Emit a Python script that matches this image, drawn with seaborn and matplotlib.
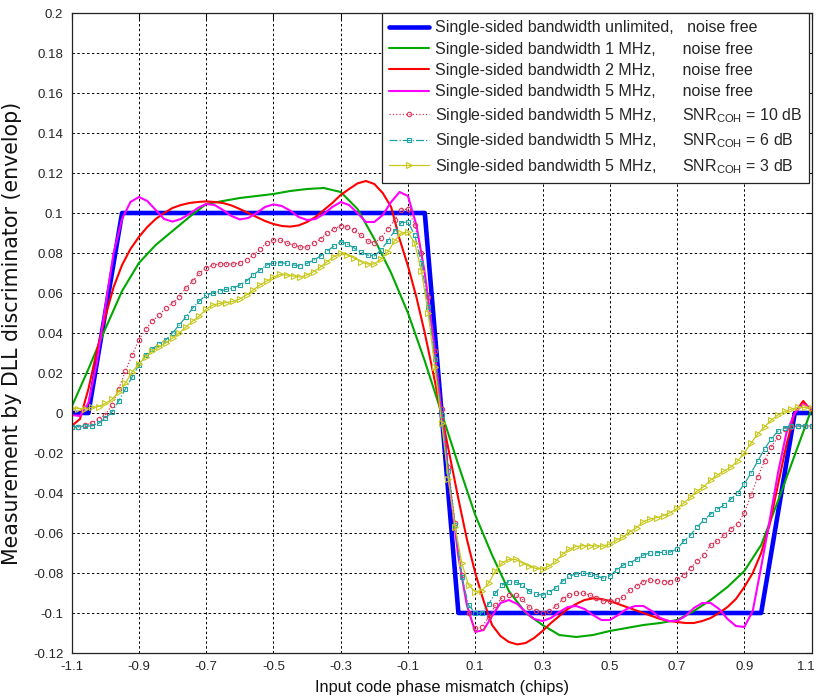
import numpy as np
import matplotlib
matplotlib.use("Agg")
import matplotlib.pyplot as plt
from matplotlib.transforms import ScaledTranslation
import seaborn as sns

# ---------------------------------------------------------------------------
# Discriminator output vs. code phase mismatch (chips)
# ---------------------------------------------------------------------------

# ideal (unlimited bandwidth) discriminator: piecewise linear corner points
x_ideal = [-1.1, -1.05, -0.95, -0.05, 0.05, 0.95, 1.05, 1.1]
y_ideal = [0.0, 0.0, 0.1, 0.1, -0.1, -0.1, 0.0, 0.0]

# 1 MHz, noise free (sampled every 0.05 chip)
x_bw1 = np.linspace(-1.1, 1.1, 45)
y_bw1 = [0.003, 0.022, 0.042, 0.061, 0.075, 0.084, 0.091, 0.098, 0.1045, 0.106,
         0.1075, 0.1085, 0.1095, 0.111, 0.112, 0.1125, 0.1105, 0.102, 0.087, 0.070,
         0.050, 0.026, 0.000,
         -0.026, -0.051, -0.071, -0.089, -0.100, -0.106, -0.111, -0.112, -0.111, -0.109,
         -0.1075, -0.106, -0.105, -0.1035, -0.099, -0.0935, -0.087, -0.079, -0.066, -0.044,
         -0.021, 0.002]

# 2 MHz and 5 MHz, noise free (sampled every 0.025 chip)
x_fine = np.linspace(-1.1, 1.1, 89)
y_bw2 = [-0.0065, -0.003, 0.012, 0.031, 0.048, 0.063, 0.074, 0.082, 0.088, 0.093,
         0.097, 0.100, 0.1025, 0.104, 0.105, 0.1055, 0.1058, 0.1055, 0.105, 0.1038,
         0.102, 0.100, 0.098, 0.096, 0.0945, 0.0935, 0.0932, 0.0938, 0.0955, 0.098,
         0.1015, 0.105, 0.109, 0.112, 0.1148, 0.116, 0.1145, 0.110, 0.103, 0.087,
         0.0735, 0.058, 0.040, 0.020, -0.001,
         -0.022, -0.043, -0.063, -0.080, -0.094, -0.106, -0.1115, -0.1145, -0.1157, -0.115,
         -0.1125, -0.109, -0.105, -0.1015, -0.098, -0.0955, -0.0935, -0.0927, -0.093, -0.094,
         -0.0955, -0.097, -0.0985, -0.100, -0.1015, -0.103, -0.104, -0.1045, -0.105, -0.105,
         -0.104, -0.1025, -0.100, -0.097, -0.093, -0.087, -0.080, -0.070, -0.056, -0.036,
         -0.016, 0.000, 0.006, 0.001]
y_bw5 = [-0.001, -0.0015, 0.005, 0.025, 0.053, 0.080, 0.097, 0.1055, 0.108, 0.106,
         0.1015, 0.097, 0.0957, 0.097, 0.0995, 0.1025, 0.1045, 0.104, 0.1015, 0.0985,
         0.0968, 0.0975, 0.100, 0.103, 0.1043, 0.1035, 0.1012, 0.098, 0.0965, 0.097,
         0.0995, 0.103, 0.1055, 0.104, 0.100, 0.0955, 0.0955, 0.099, 0.1055, 0.1105,
         0.1085, 0.094, 0.070, 0.038, 0.000,
         -0.038, -0.072, -0.096, -0.1095, -0.1085, -0.1015, -0.095, -0.0935, -0.0955, -0.0995,
         -0.103, -0.104, -0.1025, -0.0995, -0.097, -0.0965, -0.098, -0.101, -0.1035, -0.1035,
         -0.101, -0.098, -0.0965, -0.0965, -0.099, -0.1025, -0.104, -0.104, -0.1015, -0.0975,
         -0.095, -0.095, -0.098, -0.103, -0.1065, -0.107, -0.099, -0.077, -0.054, -0.030,
         -0.010, 0.000, 0.0045, 0.002]

# 5 MHz with noise (sampled every 0.02 chip)
x_noisy = np.linspace(-1.1, 1.1, 111)
y_snr10 = [-0.0068, -0.0070, -0.0062, -0.0050, -0.0030, -0.0010, 0.0040, 0.0120, 0.0210, 0.0290,
           0.0365, 0.0420, 0.0460, 0.0490, 0.0525, 0.0550, 0.0580, 0.0625, 0.0660, 0.0700,
           0.0725, 0.0740, 0.0745, 0.0745, 0.0745, 0.0750, 0.0765, 0.0790, 0.0820, 0.0850,
           0.0865, 0.0865, 0.0850, 0.0840, 0.0830, 0.0830, 0.0850, 0.0870, 0.0900, 0.0920,
           0.0937, 0.0930, 0.0915, 0.0890, 0.0860, 0.0850, 0.0875, 0.0920, 0.0965, 0.1015,
           0.1020, 0.0940, 0.0800, 0.0580, 0.0310, 0.0020,
           -0.0270, -0.0550, -0.0810, -0.1000, -0.1077, -0.1070, -0.1020, -0.0960, -0.0925, -0.0910,
           -0.0910, -0.0930, -0.0970, -0.0990, -0.0998, -0.0990, -0.0965, -0.0930, -0.0910, -0.0900,
           -0.0900, -0.0910, -0.0925, -0.0940, -0.0940, -0.0935, -0.0920, -0.0885, -0.0865, -0.0843,
           -0.0835, -0.0838, -0.0843, -0.0843, -0.0830, -0.0810, -0.0775, -0.0740, -0.0710, -0.0660,
           -0.0640, -0.0610, -0.0580, -0.0555, -0.0500, -0.0410, -0.0320, -0.0240, -0.0170, -0.0120,
           -0.0080, -0.0068, -0.0065, -0.0065, -0.0065]
y_snr6 = [-0.0068, -0.0068, -0.0067, -0.0064, -0.0052, -0.0027, 0.0005, 0.0060, 0.0120, 0.0180,
          0.0240, 0.0290, 0.0320, 0.0345, 0.0365, 0.0400, 0.0440, 0.0480, 0.0525, 0.0560,
          0.0590, 0.0600, 0.0610, 0.0618, 0.0625, 0.0640, 0.0660, 0.0690, 0.0715, 0.0740,
          0.0750, 0.0752, 0.0748, 0.0740, 0.0735, 0.0748, 0.0765, 0.0785, 0.0810, 0.0835,
          0.0857, 0.0845, 0.0825, 0.0805, 0.0790, 0.0785, 0.0815, 0.0860, 0.0910, 0.0952,
          0.0955, 0.0890, 0.0750, 0.0530, 0.0270, -0.0010,
          -0.0290, -0.0560, -0.0820, -0.0960, -0.1000, -0.1000, -0.0955, -0.0900, -0.0860, -0.0843,
          -0.0845, -0.0860, -0.0890, -0.0907, -0.0910, -0.0895, -0.0875, -0.0840, -0.0815, -0.0805,
          -0.0800, -0.0805, -0.0815, -0.0825, -0.0815, -0.0785, -0.0760, -0.0750, -0.0730, -0.0710,
          -0.0700, -0.0698, -0.0697, -0.0695, -0.0680, -0.0640, -0.0610, -0.0570, -0.0535, -0.0505,
          -0.0480, -0.0460, -0.0430, -0.0400, -0.0355, -0.0300, -0.0240, -0.0180, -0.0130, -0.0090,
          -0.0075, -0.0067, -0.0065, -0.0065, -0.0065]
y_snr3 = [0.0023, 0.0022, 0.0022, 0.0028, 0.0032, 0.0048, 0.0068, 0.0107, 0.0150, 0.0205,
          0.0245, 0.0280, 0.0310, 0.0330, 0.0350, 0.0375, 0.0400, 0.0430, 0.0460, 0.0485,
          0.0520, 0.0540, 0.0548, 0.0552, 0.0558, 0.0570, 0.0590, 0.0615, 0.0640, 0.0660,
          0.0680, 0.0693, 0.0690, 0.0685, 0.0680, 0.0690, 0.0707, 0.0730, 0.0757, 0.0782,
          0.0798, 0.0790, 0.0775, 0.0757, 0.0745, 0.0745, 0.0770, 0.0805, 0.0860, 0.0900,
          0.0905, 0.0850, 0.0710, 0.0500, 0.0230, -0.0050,
          -0.0330, -0.0570, -0.0750, -0.0860, -0.0893, -0.0888, -0.0850, -0.0790, -0.0748, -0.0732,
          -0.0732, -0.0750, -0.0765, -0.0777, -0.0780, -0.0765, -0.0740, -0.0705, -0.0680, -0.0668,
          -0.0663, -0.0663, -0.0665, -0.0665, -0.0655, -0.0635, -0.0620, -0.0593, -0.0573, -0.0543,
          -0.0530, -0.0523, -0.0513, -0.0498, -0.0477, -0.0450, -0.0420, -0.0390, -0.0368, -0.0335,
          -0.0310, -0.0290, -0.0270, -0.0240, -0.0200, -0.0150, -0.0105, -0.0070, -0.0035, -0.0010,
          0.0008, 0.0020, 0.0028, 0.0028, 0.0023]

labels = [
    "Single-sided bandwidth unlimited,   noise free",
    "Single-sided bandwidth 1 MHz,      noise free",
    "Single-sided bandwidth 2 MHz,      noise free",
    "Single-sided bandwidth 5 MHz,      noise free",
    r"Single-sided bandwidth 5 MHz,      SNR$_{\rm COH}$ = 10 dB",
    r"Single-sided bandwidth 5 MHz,      SNR$_{\rm COH}$ = 6 dB",
    r"Single-sided bandwidth 5 MHz,      SNR$_{\rm COH}$ = 3 dB",
]

xtick_vals = [-1.1, -0.9, -0.7, -0.5, -0.3, -0.1, 0.1, 0.3, 0.5, 0.7, 0.9, 1.1]
xtick_text = ["-1.1", "-0.9", "-0.7", "-0.5", "-0.3", "-0.1", "0.1", "0.3", "0.5", "0.7", "0.9", "1.1"]
ytick_vals = [-0.12, -0.1, -0.08, -0.06, -0.04, -0.02, 0.0, 0.02, 0.04, 0.06, 0.08, 0.1,
              0.12, 0.14, 0.16, 0.18, 0.2]
ytick_text = ["-0.12", "-0.1", "-0.08", "-0.06", "-0.04", "-0.02", "0", "0.02", "0.04", "0.06",
              "0.08", "0.1", "0.12", "0.14", "0.16", "0.18", "0.2"]

assert len(y_bw1) == len(x_bw1)
assert len(y_bw2) == len(x_fine) and len(y_bw5) == len(x_fine)
assert len(y_snr10) == len(x_noisy) and len(y_snr6) == len(x_noisy) and len(y_snr3) == len(x_noisy)

sns.set_style("white")
plt.rcParams["font.family"] = ["Liberation Sans", "DejaVu Sans"]
plt.rcParams["mathtext.fontset"] = "custom"
plt.rcParams["mathtext.rm"] = "Liberation Sans"
plt.rcParams["mathtext.it"] = "Liberation Sans:italic"
plt.rcParams["mathtext.bf"] = "Liberation Sans:bold"

fig = plt.figure(figsize=(8.19, 6.98), dpi=100)
ax = fig.add_axes([71.6 / 819, 45 / 698, 740 / 819, 640 / 698])

c_green = "#00a800"
c10 = "#d8365a"
c6 = "#1fa3a3"
c3 = "#c8c81e"

sns.lineplot(x=x_ideal, y=y_ideal, ax=ax, color="#0000ff", linewidth=3.3,
             estimator=None, sort=False, label=labels[0])
sns.lineplot(x=x_bw1, y=y_bw1, ax=ax, color=c_green, linewidth=1.5,
             estimator=None, sort=False, label=labels[1])
sns.lineplot(x=x_fine, y=y_bw2, ax=ax, color="#ff0000", linewidth=1.5,
             estimator=None, sort=False, label=labels[2])
sns.lineplot(x=x_fine, y=y_bw5, ax=ax, color="#ff00ff", linewidth=1.5,
             estimator=None, sort=False, label=labels[3])
sns.lineplot(x=x_noisy, y=y_snr10, ax=ax, color=c10, linewidth=0.9, linestyle=":",
             marker="o", markersize=3.2, markerfacecolor="none", markeredgecolor=c10,
             markeredgewidth=0.8, estimator=None, sort=False, label=labels[4])
sns.lineplot(x=x_noisy, y=y_snr6, ax=ax, color=c6, linewidth=0.9, linestyle="-.",
             marker="s", markersize=3.4, markerfacecolor="none", markeredgecolor=c6,
             markeredgewidth=0.8, estimator=None, sort=False, label=labels[5])
sns.lineplot(x=x_noisy, y=y_snr3, ax=ax, color=c3, linewidth=0.9, linestyle="-",
             marker=">", markersize=4.0, markerfacecolor="none", markeredgecolor=c3,
             markeredgewidth=0.8, estimator=None, sort=False, label=labels[6])

ax.set_xlim(-1.1, 1.1)
ax.set_ylim(-0.12, 0.2)
ax.set_xticks(xtick_vals)
ax.set_xticklabels(xtick_text)
ax.set_yticks(ytick_vals)
ax.set_yticklabels(ytick_text)
ax.tick_params(direction="in", length=4, width=0.8, color="black", labelsize=9.5,
               top=True, right=True, pad=6)
ax.grid(True, color="black", linestyle=(0, (2.5, 2.5)), linewidth=0.7)
for sp in ax.spines.values():
    sp.set_visible(True)
    sp.set_color("#222222")
    sp.set_linewidth(0.9)

# keep the last x tick label inside the canvas
last = ax.get_xticklabels()[-1]
last.set_transform(last.get_transform() + ScaledTranslation(-4 / 72, 0, fig.dpi_scale_trans))

ax.set_xlabel("Input code phase mismatch (chips)", fontsize=11.8, labelpad=5,
              color="#111111")
ax.set_ylabel("Measurement by DLL discriminator (envelop)", fontsize=14.8, labelpad=8,
              family=["DejaVu Sans"], color="#111111")

leg = ax.legend(loc="upper right", bbox_to_anchor=(0.997, 1.0), borderaxespad=0.0,
                fontsize=11.5, frameon=True, fancybox=False, framealpha=1.0,
                edgecolor="#222222", handlelength=2.5, handletextpad=0.35,
                labelspacing=0.4, borderpad=0.45)
leg.get_frame().set_linewidth(0.9)

fig.savefig("out.png", dpi=100)
